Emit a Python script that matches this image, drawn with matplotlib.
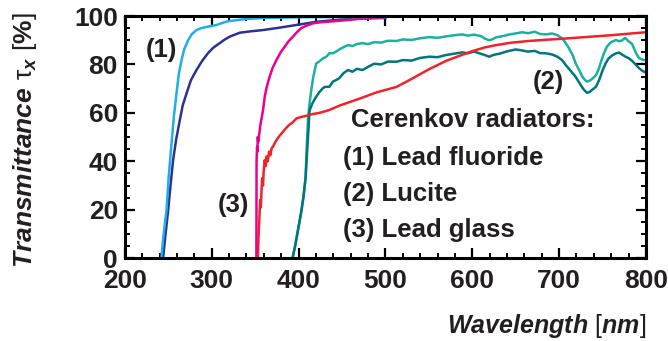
import numpy as np
import matplotlib.pyplot as plt
from matplotlib.ticker import MultipleLocator

plt.rcParams['font.family'] = ['Liberation Sans', 'DejaVu Sans']
plt.rcParams['mathtext.fontset'] = 'custom'
plt.rcParams['mathtext.rm'] = 'Liberation Sans'
plt.rcParams['mathtext.it'] = 'Liberation Sans:italic:bold'
plt.rcParams['mathtext.bf'] = 'Liberation Sans:bold'

INK = '#231f20'

# (1) lead fluoride, two samples
pbf2_a_wl = [242, 244, 247.9, 250.5, 253.7, 256.5, 259.4, 262, 265.2, 268.5, 272.8, 277,
             282.4, 288, 293.9, 300, 305.4, 311, 316.9, 322, 328.4, 340, 360, 400, 450, 500]
pbf2_a_tr = [0, 8, 19.8, 34, 47.5, 59, 68, 76, 81.8, 86.5, 90, 92.5,
             94.2, 95, 95.5, 95.9, 96.3, 97, 97.7, 98, 98.3, 98.8, 99.2, 99.5, 99.6, 99.6]
pbf2_b_wl = [244, 246.5, 249.8, 252.5, 255.5, 259, 263.2, 266.5, 270.9, 276, 282.4, 289,
             295.8, 302, 309.2, 315, 320.7, 332.2, 345, 359, 378, 397.4, 420, 450.6, 475, 500]
pbf2_b_tr = [0, 9, 19.8, 30, 40.5, 49, 57, 63, 68, 73.5, 77.7, 81.5,
             84.7, 87, 88.8, 90.3, 91.5, 93.1, 93.7, 94.2, 95.2, 96.3, 97.6, 98.6, 99.0, 99.2]

# (3) lead glass, two samples
pbgl_a_wl = [351.4, 351.5, 351.6, 352.2, 352.6, 353, 353.5, 356, 359, 361, 363.5, 366.7,
             370, 374.4, 379, 383.9, 388.5, 393.5, 398, 403, 409, 416.5, 425, 435.6,
             454.8, 475, 500]
pbgl_a_tr = [0, 20, 40, 46, 44, 50, 48, 55, 61, 66.7, 71, 75,
             78.5, 81.8, 84.8, 87.3, 89.6, 91.5, 93.3, 95, 96, 97, 97.4, 97.7,
             98.3, 99, 99.5]
pbgl_b_wl = [353, 354, 355, 355.8, 356.5, 357.3, 358, 359, 359.8, 361, 362, 363.2, 364.5,
             366, 367.5, 369, 370.5, 372.5, 375, 378, 381.6, 385, 389, 393, 397.4, 403,
             409, 416, 424, 435.6, 447, 460, 475, 490, 512.6, 530, 550, 570, 588.5,
             600, 614, 627.6, 645, 665.5, 685, 703.4, 730, 760.9, 780, 800]
pbgl_b_tr = [0, 10, 18, 24, 21, 28, 33, 30, 36, 40.5, 38, 42, 40,
             44, 42.5, 45.5, 46, 47.5, 49, 50.5, 52, 53.5, 55, 56, 57.7, 58.3,
             58.8, 59.5, 60, 61.2, 63, 64.6, 66.5, 68.5, 70.7, 74, 78, 81.5, 84,
             85.5, 87, 88, 89, 89.7, 90.2, 90.6, 91.3, 92.1, 92.7, 93.3]

# (2) lucite, two samples
luc_a_wl = [393, 396, 398.5, 401, 403, 405.5, 408, 409.6, 411, 412.5, 414.6, 417, 420.3,
            424, 428, 432, 435.6, 439.5, 444, 447, 452, 457, 462, 467, 473.6, 480,
            487, 495, 503, 512.6, 520, 530, 540, 550.6, 560, 570, 580, 588.5, 595,
            602, 610, 615, 619.5, 623, 627.6, 635, 643, 650, 657.5, 664, 672, 678,
            685, 692, 698, 703.4, 707, 711.5, 716, 719, 723, 727, 730, 732.2, 735,
            738, 742.5, 746, 749, 751.7, 755, 758.5, 762, 765.5, 769, 772.4, 776,
            780.5, 784, 788.5, 792, 795, 797.7, 800]
luc_a_tr = [0, 5, 10, 15, 19, 25, 33, 48, 58, 63.5, 69.4, 75, 80.4,
            81.3, 82.5, 83.2, 84.7, 84.6, 85.5, 86.2, 87.2, 88, 87.6, 88.4, 88.8, 88.4,
            89.2, 89, 89.8, 89.7, 90.3, 90.1, 90.8, 91.3, 91, 91.6, 92.1, 92.4, 91.9,
            92.3, 91.7, 90.6, 90, 90.4, 91.2, 91.7, 92.4, 92.8, 93.3, 92.9, 93.5, 92.6,
            92.4, 92.8, 92.1, 90.8, 89.2, 86.6, 83.5, 80.5, 77.7, 74.8, 73.5, 72.9, 73.3,
            74, 75.6, 78.5, 82, 84.7, 87.3, 88.8, 89.6, 90.1, 89.6, 89.9, 91, 89.4,
            88.5, 84.7, 82.6, 82.2, 81.8, 81.8]
luc_b_wl = [393, 396, 398.5, 401, 403, 405.5, 408, 410, 412.6, 416, 420.3, 424, 428,
            430, 435.6, 439.5, 444, 447, 452, 457, 462, 467, 473.6, 480, 487, 495,
            503, 512.6, 520, 530, 540, 550.6, 560, 570, 580, 588.5, 595, 602, 610,
            615, 619.5, 625, 632, 640, 650, 657, 664, 672, 678, 685, 692, 698, 703.4,
            708, 713, 719, 724, 728, 732, 735, 738, 742.5, 746, 750, 753.5, 757,
            761, 765, 769, 772, 776, 780.5, 784, 788.5, 792, 795, 797.7, 800]
luc_b_tr = [0, 5, 10, 15, 19, 25, 33, 45, 61, 64, 66.7, 68.6, 70.2,
            70.7, 70.8, 72.9, 73.7, 74.4, 76.5, 77.7, 77, 78.2, 77.7, 79, 80.3, 80,
            81.2, 81.1, 81.8, 81.6, 82.7, 83.2, 83, 83.9, 84.5, 85, 84.6, 85.3, 84.4,
            83.8, 83.2, 84, 84.5, 85.4, 86.2, 85.8, 85.3, 85.6, 84.7, 84.6, 84.1, 83.2, 81.8,
            79.6, 77.5, 74.9, 72, 69.8, 68.3, 68.6, 69.5, 70.8, 73.5, 77.5, 80.4, 82.5,
            83.7, 84.5, 84.9, 84.2, 83.3, 82.5, 81.5, 79.8, 78.5, 77.6, 77, 76.7]

curves = [
    (luc_a_wl, luc_a_tr, '#1bb09f'),
    (luc_b_wl, luc_b_tr, '#00767c'),
    (pbgl_b_wl, pbgl_b_tr, '#ee2428'),
    (pbf2_b_wl, pbf2_b_tr, '#2e3192'),
    (pbgl_a_wl, pbgl_a_tr, '#ec008c'),
    (pbf2_a_wl, pbf2_a_tr, '#1eaee8'),
]

fig = plt.figure(figsize=(6.68, 3.41), dpi=100)
ax = fig.add_axes([0.187, 0.243, 0.780, 0.710])

for wl, tr, c in curves:
    ax.plot(wl, tr, color=c, lw=1.8, clip_on=False, solid_joinstyle='round')

ax.set_xlim(200, 800)
ax.set_ylim(0, 100)
ax.xaxis.set_major_locator(MultipleLocator(100))
ax.xaxis.set_minor_locator(MultipleLocator(20))
ax.yaxis.set_major_locator(MultipleLocator(20))
ax.yaxis.set_minor_locator(MultipleLocator(5))
ax.tick_params(which='both', direction='in', top=True, right=True, color='black',
               labelcolor=INK, labelsize=19)
ax.tick_params(which='major', length=7, width=1.6)
ax.tick_params(which='minor', length=3.5, width=1.4)
ax.tick_params(axis='x', pad=8)
ax.tick_params(axis='y', pad=5)
for lab in ax.get_xticklabels() + ax.get_yticklabels():
    lab.set_fontweight('bold')
for sp in ax.spines.values():
    sp.set_linewidth(2.2)
    sp.set_zorder(5)

fig.text(25 / 668, 1 - 140 / 341,
         r'$\mathit{Transmittance}\ \mathrm{\tau}_{\mathit{x}}\ [\mathbf{\%}]$',
         fontsize=19, color=INK, rotation=90, ha='center', va='center')
fig.text(0.967, 0.045, r'$\mathit{Wavelength}\ [\mathit{nm}]$', fontsize=18,
         color=INK, ha='right', va='center')

txt = dict(fontsize=18.5, fontweight='bold', color=INK)
ax.text(242.5, 86, '(1)', ha='center', va='center', **txt)
ax.text(688, 72.7, '(2)', ha='center', va='center', **txt)
ax.text(325, 21.9, '(3)', ha='center', va='center', **txt)
ax.text(460, 57, 'Cerenkov radiators:', ha='left', va='center', **txt)
ax.text(450.6, 41.3, '(1) Lead fluoride', ha='left', va='center', **txt)
ax.text(450.6, 26.4, '(2) Lucite', ha='left', va='center', **txt)
ax.text(450.6, 11.6, '(3) Lead glass', ha='left', va='center', **txt)

fig.savefig('out.png', dpi=100)
